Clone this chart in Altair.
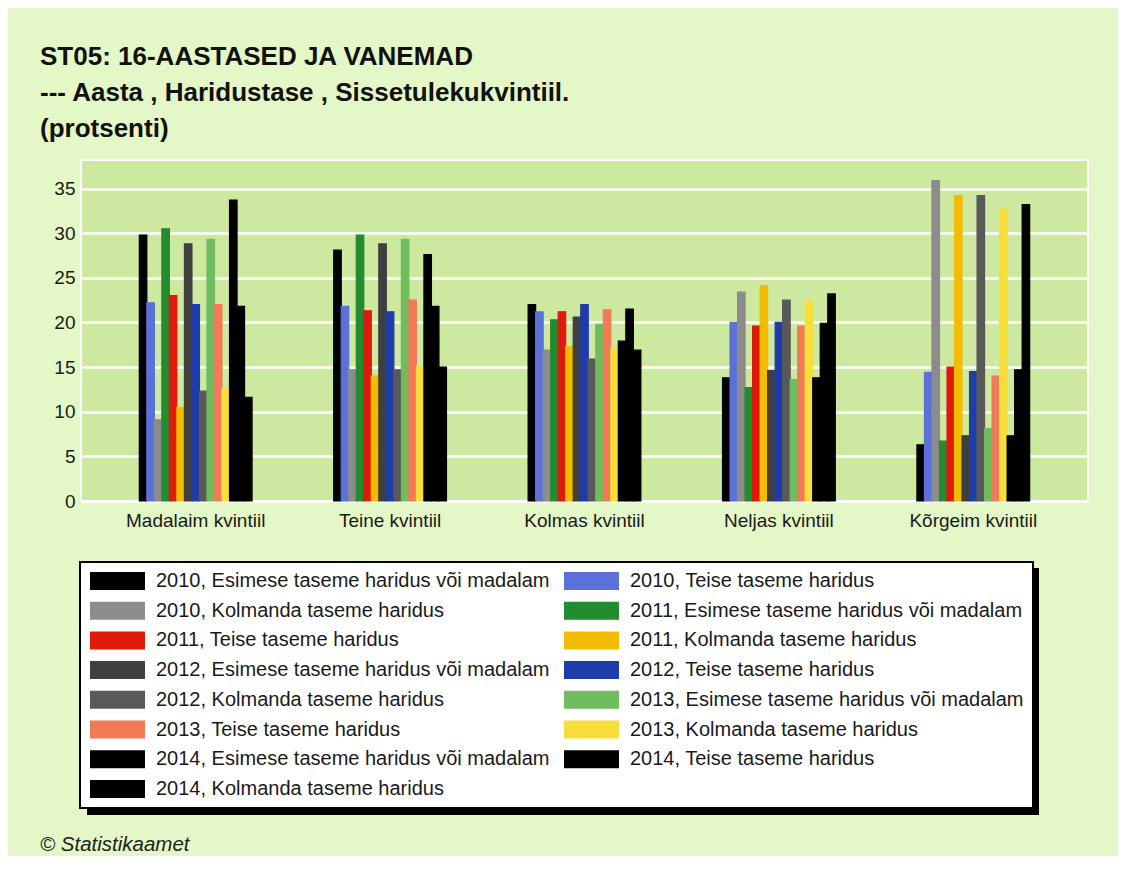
import altair as alt
import pandas as pd

quintiles = ["Madalaim kvintiil", "Teine kvintiil", "Kolmas kvintiil",
             "Neljas kvintiil", "Kõrgeim kvintiil"]

series = [
    "2010, Esimese taseme haridus või madalam",
    "2010, Teise taseme haridus",
    "2010, Kolmanda taseme haridus",
    "2011, Esimese taseme haridus või madalam",
    "2011, Teise taseme haridus",
    "2011, Kolmanda taseme haridus",
    "2012, Esimese taseme haridus või madalam",
    "2012, Teise taseme haridus",
    "2012, Kolmanda taseme haridus",
    "2013, Esimese taseme haridus või madalam",
    "2013, Teise taseme haridus",
    "2013, Kolmanda taseme haridus",
    "2014, Esimese taseme haridus või madalam",
    "2014, Teise taseme haridus",
    "2014, Kolmanda taseme haridus",
]

colors = ["#000000", "#5b70d8", "#8c8c8c",
          "#238c2e", "#de1b0b", "#f2bd00",
          "#3f3f3f", "#1f3daa", "#595959",
          "#6fbd5f", "#f17b56", "#f7de3a",
          "#000000", "#000000", "#000000"]

# values per quintile, in the order of `series`
madalaim = [29.8, 22.2, 9.1, 30.5, 23.0, 10.5, 28.8, 22.0, 12.3, 29.3, 22.0, 12.7, 33.7, 21.8, 11.6]
teine = [28.1, 21.8, 14.7, 29.8, 21.3, 14.0, 28.8, 21.2, 14.7, 29.3, 22.5, 15.1, 27.6, 21.8, 15.0]
kolmas = [22.0, 21.2, 16.9, 20.3, 21.2, 17.3, 20.6, 22.0, 15.9, 19.8, 21.4, 17.1, 17.9, 21.5, 16.9]
neljas = [13.8, 20.0, 23.4, 12.7, 19.6, 24.1, 14.6, 20.0, 22.5, 13.6, 19.6, 22.4, 13.8, 19.9, 23.2]
korgeim = [6.3, 14.4, 35.9, 6.7, 15.0, 34.2, 7.3, 14.5, 34.2, 8.1, 14.0, 32.7, 7.3, 14.7, 33.2]

y_ticks = [0, 5, 10, 15, 20, 25, 30, 35]

title_lines = ["ST05: 16-AASTASED JA VANEMAD",
               "--- Aasta , Haridustase , Sissetulekukvintiil.",
               "(protsenti)"]
footer_text = ["© Statistikaamet"]

rows = []
for q, vals in zip(quintiles, [madalaim, teine, kolmas, neljas, korgeim]):
    for s, v in zip(series, vals):
        rows.append({"kvintiil": q, "seeria": s, "vaartus": v})
df = pd.DataFrame(rows)

FONT = "Liberation Sans"

color_scale = alt.Scale(domain=series, range=colors)

bars = alt.Chart(df).mark_bar(strokeWidth=1.2).encode(
    x=alt.X("kvintiil:N", sort=quintiles,
            scale=alt.Scale(paddingInner=0.42, paddingOuter=0.3),
            axis=alt.Axis(title=None, labelAngle=0, ticks=False, domain=False,
                          labelFontSize=19, labelFont=FONT, labelColor="#1a1a1a",
                          labelPadding=10, grid=False)),
    xOffset=alt.XOffset("seeria:N", sort=series,
                        scale=alt.Scale(paddingInner=0, paddingOuter=0)),
    y=alt.Y("vaartus:Q", scale=alt.Scale(domain=[0, 38.2], nice=False),
            axis=alt.Axis(title=None, values=y_ticks, ticks=False, domain=False,
                          labelFontSize=19, labelFont=FONT, labelColor="#1a1a1a",
                          labelPadding=6, grid=True, gridColor="white",
                          gridWidth=2.5, gridOpacity=1)),
    stroke=alt.Stroke("seeria:N", sort=series, scale=color_scale, legend=None),
    color=alt.Color("seeria:N", sort=series, scale=color_scale,
                    legend=alt.Legend(
                        title=None, orient="none", legendX=-1, legendY=402,
                        columns=2, direction="horizontal",
                        symbolType="M-1,-1H5.11V1H-1Z",
                        symbolSize=324, symbolStrokeWidth=0, symbolOpacity=1,
                        labelFont=FONT, labelFontSize=20, labelColor="#1a1a1a",
                        labelOffset=47, labelLimit=700,
                        rowPadding=9.7, columnPadding=13, padding=9,
                        fillColor="white", strokeColor="black")),
)

shadow = alt.Chart(pd.DataFrame({"k": [0]})).mark_rect(color="black").encode(
    x=alt.value(6), x2=alt.value(958), y=alt.value(408), y2=alt.value(655)
)

footer = alt.Chart(pd.DataFrame({"t": footer_text})).mark_text(
    align="left", baseline="middle", fontStyle="italic", fontSize=20.5,
    font=FONT, color="#222222"
).encode(x=alt.value(-41), y=alt.value(685), text="t:N")

chart = alt.layer(shadow, bars, footer).properties(
    width=1007, height=341,
    padding={"left": 73, "top": 152, "right": 30, "bottom": 355},
    autosize=alt.AutoSizeParams(type="none"),
    background="#e4f7c6",
    title=alt.TitleParams(text=title_lines, anchor="start", frame="group",
                          dx=-41, offset=18, fontSize=26, fontWeight="bold",
                          font=FONT, color="#111111", lineHeight=36),
).configure_view(
    fill="#cde99f", stroke="white", strokeWidth=2
).configure_legend(strokeWidth=2)

chart.save("out.html", embed_options={"renderer": "svg", "actions": False})
